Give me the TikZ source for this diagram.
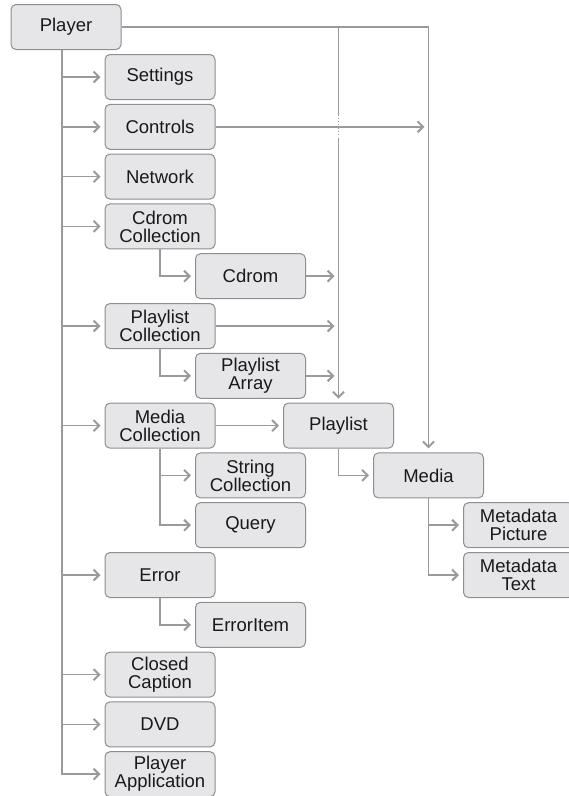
\documentclass[tikz,border=0pt]{standalone}
\usepackage{fontspec}
\setmainfont{Liberation Sans}
\usetikzlibrary{arrows.meta,calc}
\definecolor{linegray}{HTML}{9A9A9C}
\definecolor{boxfill}{HTML}{E6E6E8}
\definecolor{boxline}{HTML}{8E8E90}
\begin{document}
\begin{tikzpicture}[x=1pt,y=-1pt,
  box/.style={draw=boxline, fill=boxfill, line width=1pt, rounded corners=5pt,
    minimum width=110pt, minimum height=45pt, inner sep=0pt, align=center,
    font=\fontsize{18.5}{18}\selectfont, text=black!90},
  conn/.style={draw=linegray, line width=1.7pt},
  arr/.style={conn, -{Straight Barb[length=5.5pt,width=11pt,line width=2pt]}, shorten >=4pt}]
\useasboundingbox (0,0) rectangle (569,796);
% nodes
\node[box] (player) at (66,27) {Player};
\node[box] (settings) at (160,77) {Settings};
\node[box] (controls) at (160,126.8) {Controls};
\node[box] (network) at (160,176.6) {Network};
\node[box] (cdromcoll) at (160,226.4) {Cdrom\\Collection};
\node[box] (cdrom) at (250.5,276.2) {Cdrom};
\node[box] (plcoll) at (160,326) {Playlist\\Collection};
\node[box] (plarr) at (250.5,375.8) {Playlist\\Array};
\node[box] (mediacoll) at (160,425.6) {Media\\Collection};
\node[box] (playlist) at (338.5,425.6) {Playlist};
\node[box] (strcoll) at (250.5,475.4) {String\\Collection};
\node[box] (media) at (428.5,475.4) {Media};
\node[box] (query) at (250.5,525.2) {Query};
\node[box] (mpic) at (518.5,525.2) {Metadata\\Picture};
\node[box] (error) at (160,575) {Error};
\node[box] (mtext) at (518.5,575) {Metadata\\Text};
\node[box] (erroritem) at (250.5,624.8) {ErrorItem};
\node[box] (ccap) at (160,674.6) {Closed\\Caption};
\node[box] (dvd) at (160,724.4) {DVD};
\node[box] (plapp) at (160,774.2) {Player\\Application};
% trunk
\coordinate (t0) at ($(player.south)+(-4,0)$);
\draw[arr] (t0) |- (plapp);
\foreach \n in {settings,controls,network,cdromcoll,plcoll,mediacoll,error,ccap,dvd}
  \draw[arr] (t0 |- \n) -- (\n);
% top line to playlist and media
\coordinate (pj) at (player.east -| playlist.north);
\draw[arr] (player.east) -| (media);
\coordinate (cross) at (playlist.north |- controls.east);
\draw[conn] (pj) -- ($(cross)+(0,-11)$);
\draw[conn, line width=1.2pt, dash pattern=on 1.2pt off 2pt] ($(cross)+(0,-9)$) -- ($(cross)+(0,9)$);
\draw[arr] ($(cross)+(0,11)$) -- (playlist);
% controls to media line
\draw[arr] (controls) -- (controls -| media.north);
% into playlist line
\draw[arr] (cdrom) -- (cdrom -| playlist.north);
\draw[arr] (plcoll) -- (plcoll -| playlist.north);
\draw[arr] (plarr) -- (plarr -| playlist.north);
\draw[arr] (mediacoll) -- (playlist);
% sub branches
\draw[arr] (cdromcoll.south) |- (cdrom);
\draw[arr] (plcoll.south) |- (plarr);
\draw[arr] (mediacoll.south) |- (query);
\draw[arr] (mediacoll.south |- strcoll) -- (strcoll);
\draw[arr] (error.south) |- (erroritem);
\draw[arr] (playlist.south) |- (media);
\draw[arr] (media.south) |- (mtext);
\draw[arr] (media.south |- mpic) -- (mpic);
\end{tikzpicture}
\end{document}
